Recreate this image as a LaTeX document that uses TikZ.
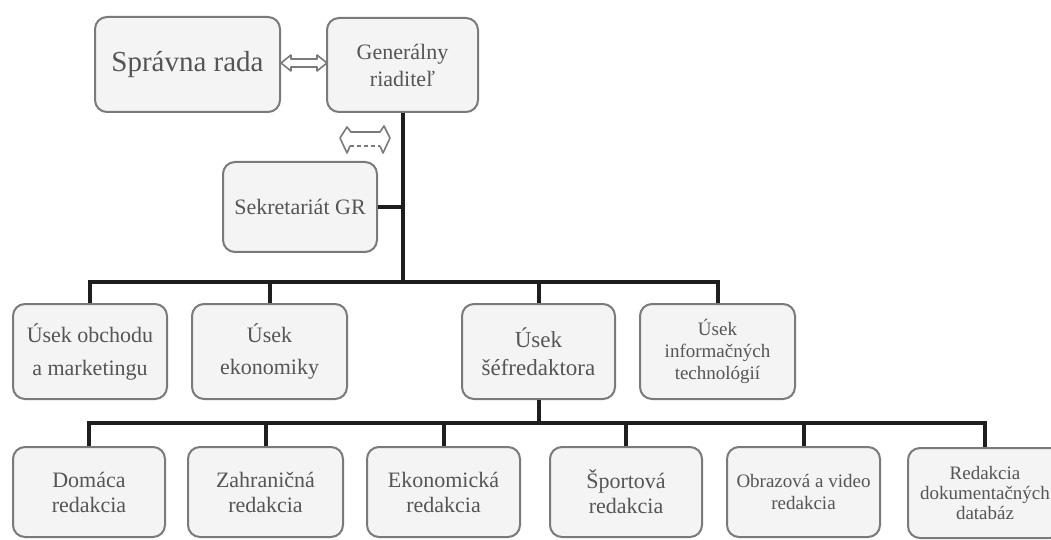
\documentclass[tikz,border=0pt]{standalone}
\usepackage{fontspec}
\setmainfont{Liberation Serif}
\usetikzlibrary{calc}
\begin{document}
\begin{tikzpicture}[x=0.5pt,y=-0.5pt,
  box/.style={draw=boxline, line width=1pt, fill=boxfill, rounded corners=6pt,
    align=center, text=txt, inner sep=1pt, minimum width=#1*0.5pt},
  box/.default=154,
  lvl2/.style={minimum height=47.5pt},
  lvl3/.style={minimum height=45pt},
  bus/.style={line width=2pt, draw=busc},
  arr/.style={draw=boxline, line width=0.8pt, fill=white, line join=round}]
\definecolor{boxline}{HTML}{7A7A7A}
\definecolor{boxfill}{HTML}{F4F4F4}
\definecolor{txt}{HTML}{555555}
\definecolor{busc}{HTML}{1E1E1E}
\useasboundingbox (0,0) rectangle (1051,540);
\fill[white] (0,0) rectangle (1051,540);

% top level
\node[box=185, minimum height=47.5pt, font=\fontsize{14.5}{17}\selectfont] (sr) at (187.5,64.5) {Správna rada};
\node[box=151, minimum height=47pt, font=\fontsize{11}{13.5}\selectfont] (gr) at (402.5,65) {Generálny\\riaditeľ};
\node[box=154, minimum height=45pt, font=\fontsize{11}{13.5}\selectfont] (sek) at (300,207) {Sekretariát GR};

% level 2
\node[box=154, lvl2, font=\fontsize{11}{16.5}\selectfont] (u1) at (90,351.5) {Úsek obchodu\\a marketingu};
\node[box=155, lvl2, font=\fontsize{11}{16}\selectfont] (u2) at (269.5,351.5) {Úsek\\ekonomiky};
\node[box=153, lvl2, font=\fontsize{11.5}{14}\selectfont] (u3) at (538.5,351.5) {Úsek\\šéfredaktora};
\node[box=155, lvl2, font=\fontsize{9.5}{11}\selectfont] (u4) at (717.5,351.5) {Úsek\\informačných\\technológií};

% level 3
\node[box=152, lvl3, font=\fontsize{11}{12.5}\selectfont] (r1) at (89,492) {Domáca\\redakcia};
\node[box=155, lvl3, font=\fontsize{11}{12.5}\selectfont] (r2) at (265.5,492) {Zahraničná\\redakcia};
\node[box=153, lvl3, font=\fontsize{11}{12.5}\selectfont] (r3) at (443.5,492) {Ekonomická\\redakcia};
\node[box=152, lvl3, font=\fontsize{11}{12.5}\selectfont] (r4) at (626,492) {Športová\\redakcia};
\node[box=153, lvl3, font=\fontsize{9.5}{11}\selectfont] (r5) at (803.5,492) {Obrazová a video\\redakcia};
\node[box=154, lvl3, font=\fontsize{9.5}{10}\selectfont, text width=70pt] (r6) at (985,493) {Redakcia\\dokumentačných\\databáz};

% bus junctions
\coordinate (j1) at (402.5,282);
\coordinate (j2) at (538.5,423);

\draw[bus] (gr.south) -- (j1);
\draw[bus] (sek.east) -- (sek.east -| gr.south);
\foreach \n in {u1,u2,u3,u4} \draw[bus] (\n.north) |- (j1);
\draw[bus] (u3.south) -- (j2);
\foreach \n in {r1,r2,r3,r4,r5,r6} \draw[bus] (\n.north) |- (j2);

% double arrow between boxes
\draw[arr] (281,63) -- (291,55) -- (291,59) -- (317,59) -- (317,55) -- (327,63) -- (317,71) -- (317,67) -- (291,67) -- (291,71) -- cycle;

% small warped double arrow
\draw[arr] (340,138) -- (347,127) -- (351,132) -- (380,132) -- (384,126) -- (390,138) -- (383,153) -- (380,146);
\draw[arr, fill=none] (350,146) -- (347,153) -- (340,138);
\draw[draw=boxline, line width=0.6pt, dashed, dash pattern=on 2pt off 1.5pt] (350,146) -- (380,146);
\end{tikzpicture}
\end{document}
